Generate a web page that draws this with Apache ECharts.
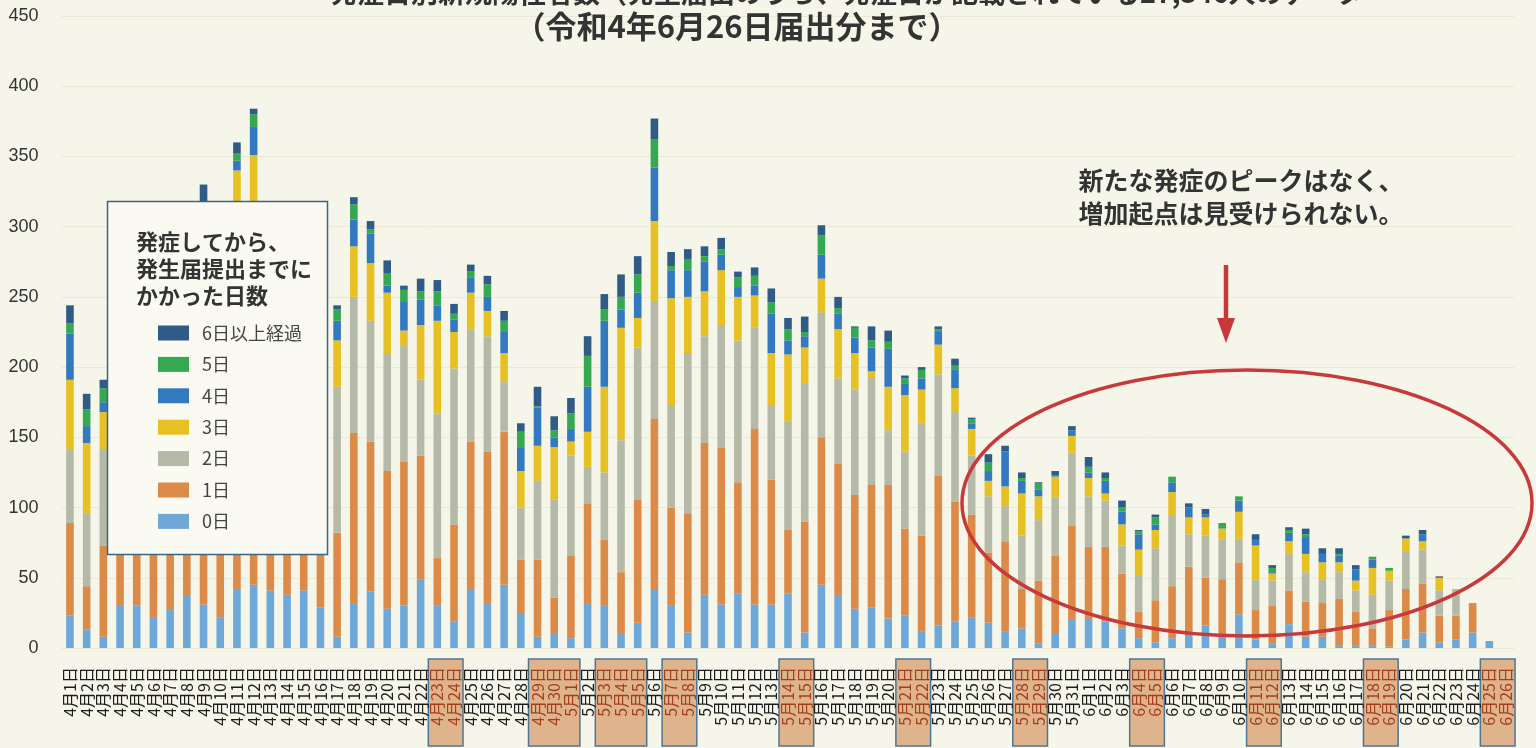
<!DOCTYPE html>
<html><head><meta charset="utf-8">
<script src="https://cdn.jsdelivr.net/npm/echarts@6/dist/echarts.min.js"></script>
<style>html,body{margin:0;padding:0;background:#f6f5e9;}#c{width:1536px;height:748px;}</style>
</head><body><div id="c"></div>
<script>
const dates = ['4月1日','4月2日','4月3日','4月4日','4月5日','4月6日','4月7日','4月8日','4月9日','4月10日',
'4月11日','4月12日','4月13日','4月14日','4月15日','4月16日','4月17日','4月18日','4月19日','4月20日',
'4月21日','4月22日','4月23日','4月24日','4月25日','4月26日','4月27日','4月28日','4月29日','4月30日',
'5月1日','5月2日','5月3日','5月4日','5月5日','5月6日','5月7日','5月8日','5月9日','5月10日',
'5月11日','5月12日','5月13日','5月14日','5月15日','5月16日','5月17日','5月18日','5月19日','5月20日',
'5月21日','5月22日','5月23日','5月24日','5月25日','5月26日','5月27日','5月28日','5月29日','5月30日','5月31日',
'6月1日','6月2日','6月3日','6月4日','6月5日','6月6日','6月7日','6月8日','6月9日','6月10日',
'6月11日','6月12日','6月13日','6月14日','6月15日','6月16日','6月17日','6月18日','6月19日','6月20日',
'6月21日','6月22日','6月23日','6月24日','6月25日','6月26日'];
const holidays = ['4月23日','4月24日','4月29日','4月30日','5月1日','5月3日','5月4日','5月5日','5月7日','5月8日',
'5月14日','5月15日','5月21日','5月22日','5月28日','5月29日','6月4日','6月5日','6月11日','6月12日',
'6月18日','6月19日','6月25日','6月26日'];
const seriesNames = ['0日','1日','2日','3日','4日','5日','6日以上経過'];
const day0 = [23,13,8,30,30,22,27,37,31,22, 42,45,41,38,41,29,8,32,40,28, 30,49,30,19,42,32,45,25,8,10,
 7,32,30,10,18,42,30,11,38,31, 39,31,31,39,11,45,37,28,29,21, 23,12,16,19,22,18,12,14,3,10,
 20,20,19,14,7,4,7,10,16,9, 24,6,3,17,8,8,2,2,2,1, 6,11,4,6,11,5,0];
const day1 = [66,31,65,80,85,90,95,100,100,100, 110,115,105,100,95,90,74,121,107,98, 103,88,34,69,105,108,109,38,55,26,
 59,71,47,44,88,121,70,85,108,112, 79,125,89,45,79,105,94,81,87,95, 62,68,107,85,73,50,64,28,45,56,
 67,52,53,39,19,30,37,48,34,40, 37,21,27,24,25,24,33,24,12,26, 36,35,19,17,21,0,0];
const day2 = [52,52,68,70,75,72,80,85,90,90, 95,100,85,80,75,70,104,97,86,84, 82,54,103,111,80,82,36,37,56,70,
 71,26,48,94,108,84,73,114,76,87, 101,72,53,77,98,89,61,75,77,39, 55,80,72,64,42,40,25,38,43,41,
 52,36,33,20,26,37,50,23,30,28, 16,22,18,26,21,17,19,15,24,21, 27,24,18,19,0,0,0];
const day3 = [50,50,27,35,40,35,40,38,50,45, 93,91,40,40,35,35,33,36,41,43, 11,39,66,26,26,18,20,26,25,37,
 10,25,61,80,21,57,76,40,32,39, 31,23,37,48,26,24,35,26,4,31, 40,24,21,17,19,11,14,30,17,15,
 12,13,5,15,18,13,17,12,13,8, 20,24,5,9,13,12,7,7,19,7, 9,6,9,0,0,0,0];
const day4 = [33,12,7,20,18,20,18,20,30,22, 7,20,20,18,18,15,14,19,21,5, 21,18,11,9,11,10,15,17,27,7,
 9,32,47,13,18,38,20,19,21,11, 7,7,28,10,8,17,11,11,17,27, 8,8,9,13,4,7,25,9,5,1,
 4,4,9,9,11,4,7,7,2,0, 8,4,1,6,12,6,5,8,6,0, 0,5,0,0,0,0,0];
const day5 = [7,12,10,8,8,7,8,8,12,9, 5,9,8,7,7,6,8,11,3,9, 8,6,10,4,4,9,8,11,1,5,
 11,22,8,9,13,20,3,8,4,4, 7,7,8,8,3,14,4,7,5,5, 4,6,2,3,3,6,0,2,4,0,
 0,4,2,3,2,5,4,0,0,4, 3,0,3,2,2,0,1,0,2,2, 0,0,0,0,0,0,0];
const day6 = [13,11,6,10,9,10,9,10,17,10, 8,4,9,8,8,8,3,5,6,9, 3,9,8,7,5,6,7,6,14,10,
 11,14,11,16,13,15,10,7,7,8, 4,6,10,8,11,7,8,1,10,8, 2,2,2,5,1,6,4,4,1,3,
 3,7,4,5,1,2,0,3,4,0, 0,4,2,2,4,4,4,3,0,0, 2,3,1,0,0,0,0];
const yTicks = [0,50,100,150,200,250,300,350,400,450];
const colors = ['#6ea8d8','#dc8a48','#b5b9a7','#e7c024','#3279bf','#35a852','#2f5b86'];

const chart = echarts.init(document.getElementById('c'), null, {renderer:'canvas'});
const allData = [day0,day1,day2,day3,day4,day5,day6];
const series = seriesNames.map((n,i)=>({
  name:n, type:'bar', stack:'total', data:allData[i], barWidth:7.6,
  itemStyle:{color:colors[i]}, emphasis:{disabled:true}, z:2
}));
const JP = "'Noto Sans CJK JP','Noto Sans',sans-serif";
chart.setOption({
  animation:false,
  backgroundColor:'#f6f5e9',
  grid:{left:61.6,right:21.6,top:16,bottom:100,containLabel:false},
  xAxis:{type:'category',data:dates,z:5,
    axisLine:{show:false},axisTick:{show:false},
    axisLabel:{interval:0,rotate:90,margin:19,fontSize:16,color:'#1c1c1c',fontFamily:JP,
      formatter:v=>holidays.includes(v)?'{h|'+v+'}':v,
      rich:{h:{color:'#a2401c',fontSize:16,fontFamily:JP}}}},
  yAxis:{type:'value',min:yTicks[0],max:yTicks[yTicks.length-1],interval:50,
    axisLine:{show:false},axisTick:{show:false},
    axisLabel:{fontSize:18,color:'#333',margin:23,fontFamily:"'Liberation Sans',Arial,sans-serif"},
    splitLine:{lineStyle:{color:'#ebe9d5',width:1}}},
  legend:{orient:'vertical',left:153,top:319,itemWidth:31,itemHeight:15,itemGap:13.4,
    icon:'rect',selectedMode:false,z:30,
    data:seriesNames.slice().reverse(),
    textStyle:{fontSize:18,color:'#444',fontFamily:JP,padding:[0,0,0,8]}},
  series:series
});

// holiday boxes computed through the category axis
const runs=[];
dates.forEach((d,i)=>{
  if(holidays.includes(d)){
    const last=runs[runs.length-1];
    if(last && last[1]===i-1) last[1]=i; else runs.push([i,i]);
  }
});
const g=[];
runs.forEach(r=>{
  const x1=chart.convertToPixel({xAxisIndex:0},r[0]);
  const x2=chart.convertToPixel({xAxisIndex:0},r[1]);
  g.push({type:'rect',z:1,shape:{x:x1-9,y:659,width:x2-x1+18,height:87},
    style:{fill:'#dfb48d',stroke:'#4f7594',lineWidth:1.5}});
});
// legend box
g.push({type:'rect',z:10,shape:{x:107.5,y:201.5,width:220,height:353},
  style:{fill:'#fbfaf2',stroke:'#3c6680',lineWidth:1.5}});
g.push({type:'text',z:31,left:136,top:228,
  style:{text:'発症してから、\n発生届提出までに\nかかった日数',font:"bold 22px 'Noto Sans CJK JP'",fill:'#333',lineHeight:27}});
// titles (first line is cut off by the top edge in the original)
g.push({type:'text',z:31,style:{x:330,y:-7,text:'発症日別新規陽性者数（発生届出のうち、発症日が記載されている27,346人のデータ',
  font:"bold 27px 'Noto Sans CJK JP'",fill:'#333',textAlign:'left',textVerticalAlign:'middle'}});
g.push({type:'text',z:31,style:{x:737,y:26,text:'（令和4年6月26日届出分まで）',
  font:"bold 31px 'Noto Sans CJK JP'",fill:'#333',textAlign:'center',textVerticalAlign:'middle'}});
// annotation
g.push({type:'text',z:31,style:{x:1241,y:197,text:'新たな発症のピークはなく、\n増加起点は見受けられない。',
  font:"bold 25px 'Noto Sans CJK JP'",fill:'#333',textAlign:'center',textVerticalAlign:'middle',lineHeight:33}});
g.push({type:'line',z:31,shape:{x1:1226,y1:265,x2:1226,y2:322},style:{stroke:'#c8383a',lineWidth:4.5}});
g.push({type:'polygon',z:31,shape:{points:[[1217,318],[1235,318],[1226,343]]},style:{fill:'#c8383a'}});
g.push({type:'ellipse',z:31,shape:{cx:1247,cy:503,rx:285,ry:133},style:{fill:'none',stroke:'#c8393b',lineWidth:3.5}});
chart.setOption({graphic:g});
</script></body></html>
